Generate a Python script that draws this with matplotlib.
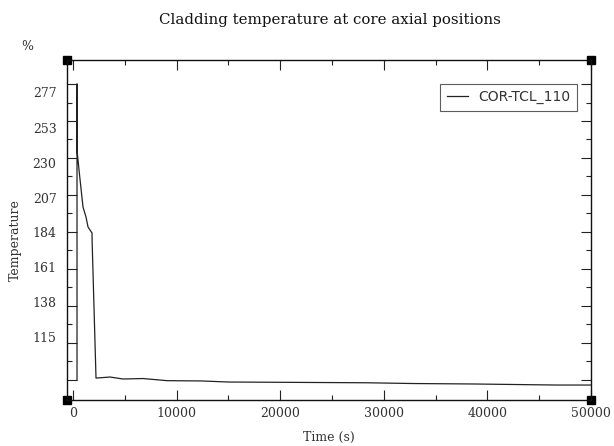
import matplotlib
matplotlib.use("Agg")
import matplotlib.pyplot as plt
import numpy as np

plt.rcParams['font.family'] = ['DejaVu Serif']

# Data
time_s = [386, 386, 386, 580, 965, 1255, 1448, 1834, 1850, 2220, 3571, 4826,
          6757, 9073, 12452, 14961, 28378, 32819, 38610, 46718, 50000]
temperature = [87.2, 283.1, 239.4, 226.2, 201.7, 195.1, 188.5, 184.5, 177.9, 88.5,
               89.2, 87.9, 88.2, 86.8, 86.6, 85.9, 85.4, 84.9, 84.6, 83.9, 83.9]
series_label = "COR-TCL_110"

ytick_labels = [277, 253, 230, 207, 184, 161, 138, 115]
ytick_marks = [87.4, 111.9, 136.3, 160.8, 185.2, 209.7, 234.2, 258.6, 283.1]
xticks = [0, 10000, 20000, 30000, 40000, 50000]
xminor = [5000, 15000, 25000, 35000, 45000]

W, H = 614, 446
fig = plt.figure(figsize=(W / 100, H / 100), dpi=100)
ax = fig.add_axes([67 / W, 1 - 400 / H, (591 - 67) / W, (400 - 60) / H])

ax.plot(time_s, temperature, color='#222222', lw=0.9, label=series_label)

ax.set_xlim(-580, 50000)
ax.set_ylim(74, 299)

ax.set_xticks(xticks)
ax.set_xticks(xminor, minor=True)
ax.set_yticks(ytick_marks)
ax.set_yticklabels([])
ymid = [(a + b) / 2 for a, b in zip(ytick_marks[:-1], ytick_marks[1:])]
ax.set_yticks(ymid, minor=True)

ax.tick_params(which='both', direction='in', top=True, right=True, colors='#222222',
               labelcolor='#333333', labelsize=9)
ax.tick_params(which='major', length=7, width=0.8)
ax.tick_params(which='minor', length=3.5, width=0.8)
ax.tick_params(axis='x', pad=5)

for v in ytick_labels:
    ax.text(-0.02, v, str(v), transform=ax.get_yaxis_transform(), ha='right',
            va='center', fontsize=9, color='#333333')

for s in ax.spines.values():
    s.set_linewidth(1.0)
    s.set_color('#111111')

# corner squares
for cx in (0, 1):
    for cy in (0, 1):
        ax.plot([cx], [cy], marker='s', ms=6, color='black', transform=ax.transAxes,
                clip_on=False)

ax.set_xlabel("Time (s)", fontsize=9, color='#333333', labelpad=8)
fig.text(15 / W, 1 - 240 / H, "Temperature", rotation=90, ha='center', va='center',
         fontsize=9, color='#333333')
fig.text(330 / W, 1 - 20 / H, "Cladding temperature at core axial positions",
         ha='center', va='center', fontsize=10.8, color='#111111')
fig.text(27 / W, 1 - 47 / H, "%", ha='center', va='center', fontsize=9, color='#333333')

leg = ax.legend(loc='upper right', bbox_to_anchor=(577 / W, 1 - 84 / H),
                bbox_transform=fig.transFigure, frameon=True,
                prop={'family': 'DejaVu Sans', 'size': 10},
                fancybox=False, edgecolor='#333333', handlelength=1.5,
                handletextpad=0.8, borderpad=0.45, borderaxespad=0)
leg.get_frame().set_linewidth(0.8)
for t in leg.get_texts():
    t.set_color('#333333')

fig.savefig("out.png", dpi=100)
